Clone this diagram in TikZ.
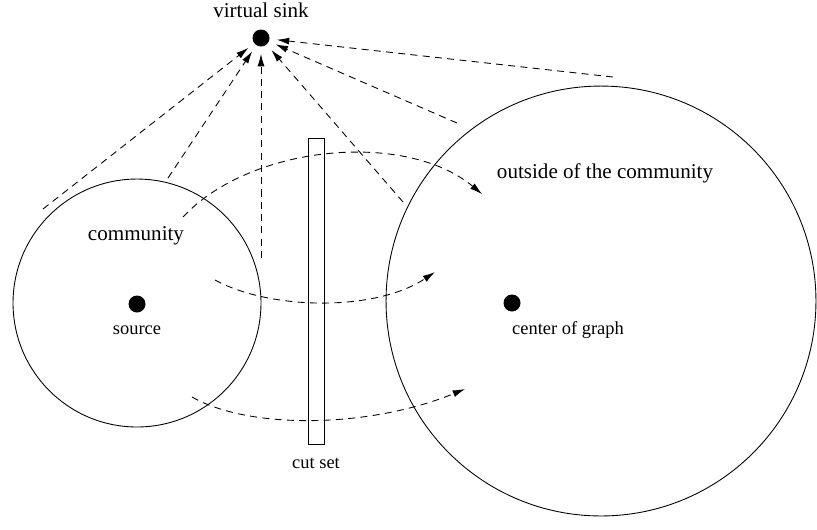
\documentclass[tikz,border=0pt]{standalone}
\usepackage{fontspec}
\setmainfont{Liberation Serif}
\usetikzlibrary{arrows.meta,positioning}

\begin{document}
\begin{tikzpicture}[
    x=0.02cm, y=-0.02cm, line width=0.5pt,
    dot/.style={circle, fill=black, inner sep=0pt, minimum size=0.34cm},
    region/.style={circle, draw, inner sep=0pt},
    biglbl/.style={font=\fontsize{12}{14}\selectfont, inner sep=0pt},
    smalllbl/.style={font=\fontsize{10.5}{12}\selectfont, inner sep=0pt},
    flow/.style={dash pattern=on 4pt off 3pt, -{Latex[length=7pt,width=4pt]}}
  ]
  \useasboundingbox (0,0) rectangle (817,529);

  \node[region, minimum size=4.96cm] (comm)    at (137,303) {};
  \node[region, minimum size=8.6cm]  (outside) at (601,301) {};
  \node[draw, inner sep=0pt, minimum width=0.32cm, minimum height=6.12cm] (cutset) at (316,291) {};

  \node[dot] (sink)   at (261,38)  {};
  \node[dot] (src)    at (137,304) {};
  \node[dot] (center) at (512,303) {};

  \node[biglbl]   (sinklbl)   at (261,10)  {virtual sink};
  \node[biglbl]   (commlbl)   at (136,236) {community};
  \node[biglbl]   (outlbl)    at (605,173) {outside of the community};
  \node[smalllbl] (srclbl)    at (137,330) {source};
  \node[smalllbl] (centerlbl) at (568,330) {center of graph};
  \node[smalllbl] (cutlbl)    at (316,463) {cut set};

  \coordinate (s1) at (43,209);
  \coordinate (s2) at (168,178);
  \coordinate (s3) at (261,258);
  \coordinate (s4) at (403,202);
  \coordinate (s5) at (457,123);
  \coordinate (s6) at (613,77);
  \foreach \s in {s1,s2,s3,s4,s5,s6}
    \draw[flow, shorten >=4pt] (\s) -- (sink);

  \coordinate (a1) at (183,217);
  \coordinate (a2) at (482,194);
  \coordinate (b1) at (215,280);
  \coordinate (b2) at (435,272);
  \coordinate (c1) at (192,397);
  \coordinate (c2) at (465,389);
  \draw[flow] (a1) .. controls (250,145) and (405,130) .. (a2);
  \draw[flow] (b1) .. controls (270,310) and (375,312) .. (b2);
  \draw[flow] (c1) .. controls (250,430) and (370,428) .. (c2);
\end{tikzpicture}
\end{document}
